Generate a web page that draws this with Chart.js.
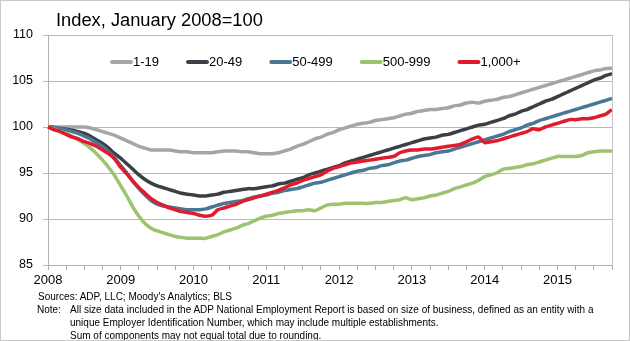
<!DOCTYPE html>
<html>
<head>
<meta charset="utf-8">
<script src="https://cdn.jsdelivr.net/npm/chart.js@4.4.1/dist/chart.umd.min.js"></script>
<style>
  body { margin: 0; background: #fff; }
  #wrap { position: relative; width: 630px; height: 341px; font-family: "Liberation Sans", Arial, sans-serif; color: #000; }
  #frame { position: absolute; left: 0; top: 0; width: 628px; height: 339px; border: 1px solid #c9c9c9; pointer-events: none; }
  #title { position: absolute; left: 56px; top: 9px; font-size: 18.3px; white-space: nowrap; }
  .foot { position: absolute; font-size: 10px; white-space: nowrap; }
</style>
</head>
<body>
<div id="wrap">
  <canvas id="lineChart" width="630" height="341"></canvas>
  <div id="title">Index, January 2008=100</div>
  <div class="foot" style="left:38px; top:291px;">Sources: ADP, LLC; Moody's Analytics; BLS</div>
  <div class="foot" style="left:37px; top:304px;">Note:</div>
  <div class="foot" style="left:70px; top:304px;">All size data included in the ADP National Employment Report is based on size of business, defined as an entity with a</div>
  <div class="foot" style="left:70px; top:317px;">unique Employer Identification Number, which may include multiple establishments.</div>
  <div class="foot" style="left:70px; top:330px;">Sum of components may not equal total due to rounding.</div>
  <div id="frame"></div>
</div>
<script>
// monthly, January 2008 through October 2015
const years = [2008, 2009, 2010, 2011, 2012, 2013, 2014, 2015];
const lastMonth = 10;
const months = [];
years.forEach(y => {
    const n = y === 2015 ? lastMonth : 12;
    for (let m = 1; m <= n; m++) months.push(y + '-' + String(m).padStart(2, '0'));
});

const yTicks = [85, 90, 95, 100, 105, 110];

const size1to19 = [
    100.0, 100.0, 100.0, 100.0, 100.0, 100.0, 100.0, 99.9, 99.7, 99.5, 99.3, 99.1,
    98.8, 98.5, 98.2, 97.9, 97.7, 97.5, 97.5, 97.5, 97.5, 97.4, 97.3, 97.3,
    97.2, 97.2, 97.2, 97.2, 97.3, 97.4, 97.4, 97.4, 97.3, 97.3, 97.2, 97.1,
    97.1, 97.1, 97.2, 97.4, 97.6, 97.9, 98.1, 98.4, 98.7, 98.9, 99.2, 99.4,
    99.7, 99.9, 100.1, 100.3, 100.4, 100.5, 100.7, 100.8, 100.9, 101.0, 101.2, 101.4,
    101.5, 101.7, 101.8, 101.9, 101.9, 102.0, 102.1, 102.3, 102.4, 102.6, 102.7, 102.6,
    102.8, 102.9, 103.0, 103.2, 103.3, 103.5, 103.7, 103.9, 104.1, 104.3, 104.5, 104.7,
    104.9, 105.1, 105.3, 105.5, 105.7, 105.9, 106.1, 106.2, 106.35, 106.4
];
const size20to49 = [
    100.0, 99.95, 99.85, 99.75, 99.65, 99.5, 99.3, 99.0, 98.6, 98.2, 97.7, 97.1,
    96.6, 96.0, 95.4, 94.8, 94.3, 93.9, 93.6, 93.4, 93.2, 93.0, 92.8, 92.7,
    92.6, 92.5, 92.5, 92.6, 92.7, 92.9, 93.0, 93.1, 93.2, 93.3, 93.3, 93.4,
    93.5, 93.6, 93.8, 93.9, 94.1, 94.3, 94.5, 94.8, 95.0, 95.2, 95.4, 95.6,
    95.8, 96.1, 96.3, 96.5, 96.7, 96.9, 97.1, 97.3, 97.5, 97.7, 97.9, 98.1,
    98.3, 98.5, 98.7, 98.8, 98.9, 99.1, 99.2, 99.4, 99.6, 99.8, 100.0, 100.2,
    100.3, 100.5, 100.7, 100.9, 101.2, 101.4, 101.7, 101.9, 102.2, 102.5, 102.8, 103.0,
    103.3, 103.6, 103.9, 104.2, 104.5, 104.8, 105.1, 105.3, 105.6, 105.8
];
const size50to499 = [
    100.0, 99.95, 99.85, 99.7, 99.5, 99.3, 99.0, 98.7, 98.3, 97.9, 97.3, 96.6,
    95.8, 95.0, 94.1, 93.3, 92.6, 92.0, 91.6, 91.4, 91.3, 91.2, 91.1, 91.0,
    91.0, 91.0, 91.1, 91.3, 91.5, 91.7, 91.8, 91.9, 92.0, 92.2, 92.4, 92.5,
    92.6, 92.8, 92.9, 93.1, 93.2, 93.3, 93.5, 93.7, 93.9, 94.0, 94.2, 94.4,
    94.6, 94.8, 95.0, 95.2, 95.3, 95.5, 95.6, 95.8, 95.9, 96.1, 96.3, 96.4,
    96.6, 96.8, 96.9, 97.0, 97.2, 97.3, 97.4, 97.6, 97.8, 98.0, 98.2, 98.4,
    98.6, 98.8, 99.0, 99.2, 99.5, 99.7, 99.9, 100.2, 100.4, 100.7, 100.9, 101.1,
    101.3, 101.5, 101.7, 101.9, 102.1, 102.3, 102.5, 102.7, 102.9, 103.1
];
const size500to999 = [
    100.0, 99.8, 99.5, 99.3, 99.0, 98.6, 98.2, 97.7, 97.1, 96.4, 95.6, 94.7,
    93.6, 92.5, 91.3, 90.3, 89.5, 89.0, 88.7, 88.5, 88.3, 88.1, 88.0, 87.9,
    87.9, 87.9, 87.9, 88.1, 88.3, 88.6, 88.8, 89.0, 89.3, 89.5, 89.8, 90.1,
    90.3, 90.4, 90.6, 90.7, 90.8, 90.9, 90.9, 91.0, 90.9, 91.2, 91.5, 91.6,
    91.6, 91.7, 91.7, 91.7, 91.7, 91.7, 91.8, 91.8, 91.9, 92.0, 92.1, 92.3,
    92.1, 92.2, 92.3, 92.5, 92.6, 92.8, 93.0, 93.3, 93.5, 93.7, 93.9, 94.2,
    94.6, 94.8, 95.0, 95.4, 95.5, 95.6, 95.7, 95.9, 96.0, 96.2, 96.4, 96.6,
    96.8, 96.8, 96.8, 96.8, 96.9, 97.2, 97.3, 97.4, 97.4, 97.4
];
const size1000plus = [
    100.0, 99.7, 99.5, 99.2, 98.9, 98.7, 98.4, 98.2, 97.9, 97.5, 97.1, 96.5,
    95.6, 94.9, 94.1, 93.4, 92.8, 92.2, 91.8, 91.5, 91.2, 91.0, 90.8, 90.7,
    90.6, 90.4, 90.3, 90.4, 91.0, 91.2, 91.4, 91.6, 91.9, 92.1, 92.3, 92.5,
    92.7, 92.9, 93.1, 93.4, 93.7, 93.9, 94.2, 94.4, 94.6, 94.8, 95.2, 95.5,
    95.7, 95.9, 96.1, 96.2, 96.3, 96.4, 96.5, 96.6, 96.7, 96.8, 97.2, 97.4,
    97.5, 97.5, 97.6, 97.6, 97.7, 97.8, 97.9, 98.0, 98.1, 98.4, 98.7, 98.9,
    98.3, 98.4, 98.5, 98.7, 98.9, 99.1, 99.3, 99.5, 99.8, 99.7, 100.0, 100.2,
    100.4, 100.6, 100.8, 100.8, 100.9, 100.9, 101.0, 101.2, 101.4, 101.9
];

const series = [
    { label: '1-19',    data: size1to19,    color: '#a5a5a5' },
    { label: '20-49',   data: size20to49,   color: '#3b3f46' },
    { label: '50-499',  data: size50to499,  color: '#4a7893' },
    { label: '500-999', data: size500to999, color: '#9cc46e' },
    { label: '1,000+',  data: size1000plus, color: '#e11a2c' }
];

// legend sits inside the plot, above the 105 line; right border of the plot box
const insideLegend = {
    id: 'insideLegend',
    afterDraw(chart) {
        const ctx = chart.ctx;
        const area = chart.chartArea;
        ctx.save();
        ctx.strokeStyle = '#c4c4c4';
        ctx.lineWidth = 1;
        ctx.beginPath();
        ctx.moveTo(area.right + 0.5, area.top);
        ctx.lineTo(area.right + 0.5, area.bottom);
        ctx.stroke();

        ctx.font = '13px "Liberation Sans", Arial, sans-serif';
        ctx.textBaseline = 'middle';
        let x = 110;
        const y = 62;
        series.forEach(s => {
            ctx.strokeStyle = s.color;
            ctx.lineWidth = 4;
            ctx.lineCap = 'round';
            ctx.beginPath();
            ctx.moveTo(x + 2, y);
            ctx.lineTo(x + 21, y);
            ctx.stroke();
            ctx.fillStyle = '#000';
            ctx.fillText(s.label, x + 23, y);
            x += 23 + ctx.measureText(s.label).width + 27;
        });
        ctx.restore();
    }
};

new Chart(document.getElementById('lineChart'), {
    type: 'line',
    data: {
        labels: months,
        datasets: series.map((s, i) => ({
            label: s.label,
            data: s.data,
            borderColor: s.color,
            backgroundColor: s.color,
            borderWidth: 3.5,
            pointRadius: 0,
            tension: 0.2,
            order: series.length - i
        }))
    },
    options: {
        responsive: false,
        animation: false,
        devicePixelRatio: 1,
        layout: { padding: { top: 35, right: 18, left: 0, bottom: 0 } },
        plugins: {
            legend: { display: false },
            tooltip: { enabled: false }
        },
        scales: {
            x: {
                type: 'category',
                offset: false,
                afterFit: scale => { scale.height = 76; },
                grid: { drawOnChartArea: false, drawTicks: true, tickLength: 5, color: '#b0b0b0' },
                border: { color: '#b0b0b0' },
                ticks: {
                    autoSkip: false,
                    maxRotation: 0,
                    padding: 3,
                    color: '#000',
                    font: { family: '"Liberation Sans", Arial, sans-serif', size: 13 },
                    callback: function (value, index) {
                        if (index % 3 !== 0) return null;
                        if (index % 12 === 0) return years[index / 12];
                        return '';
                    }
                }
            },
            y: {
                min: yTicks[0],
                max: yTicks[yTicks.length - 1],
                afterFit: scale => { scale.width = 48; },
                afterBuildTicks: scale => { scale.ticks = yTicks.map(v => ({ value: v })); },
                grid: { color: '#b8b8b8', tickLength: 5 },
                border: { color: '#b0b0b0' },
                ticks: {
                    padding: 10,
                    color: '#000',
                    font: { family: '"Liberation Sans", Arial, sans-serif', size: 12.5 }
                }
            }
        }
    },
    plugins: [insideLegend]
});
</script>
</body>
</html>
